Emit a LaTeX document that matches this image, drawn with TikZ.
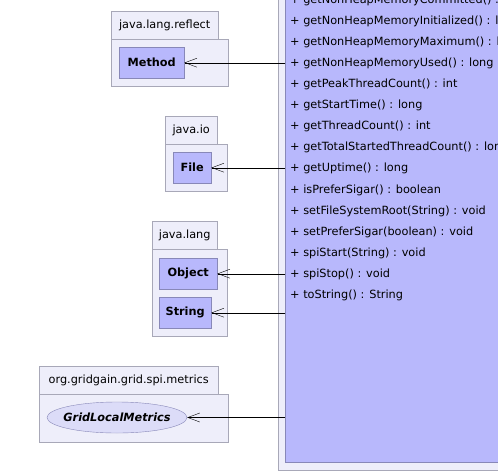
\documentclass[tikz,border=0pt]{standalone}
\usepackage{fontspec}
\setmainfont{DejaVu Sans}
\usetikzlibrary{arrows.meta,positioning,shapes.geometric}
\definecolor{pkgfill}{HTML}{EEEEFA}
\definecolor{pkgline}{HTML}{A8A8B8}
\definecolor{clsfill}{HTML}{B8B8FC}
\definecolor{clsline}{HTML}{8888B8}
\definecolor{ifcfill}{HTML}{DCDCF8}

\begin{document}
\begin{tikzpicture}[x=1pt, y=-1pt, font=\fontsize{11.3}{13}\selectfont,
          pkgtab/.style={draw=pkgline, fill=pkgfill, anchor=north west, inner sep=0pt, minimum height=28pt},
          pkgbody/.style={draw=pkgline, fill=pkgfill, anchor=north west, inner sep=0pt},
          cls/.style={draw=clsline, fill=clsfill, anchor=north west, inner sep=0pt, minimum height=31pt, font=\fontsize{11.3}{13}\selectfont\bfseries},
          ifc/.style={ellipse, draw=clsline, fill=ifcfill, inner ysep=0pt, inner xsep=-6pt, minimum width=140pt, minimum height=31pt, font=\fontsize{11.3}{13}\selectfont\bfseries\itshape},
          op/.style={anchor=west, inner sep=0pt},
          dep/.style={-{Straight Barb[length=12pt,width=9pt]}, black}]
        \useasboundingbox (0,0) rectangle (498,472);
        % the metrics class
        \node[pkgbody, draw=pkgline, minimum width=240pt, minimum height=490pt] (frame) at (278,-20) {};
        \node[pkgbody, draw=clsline, fill=clsfill, minimum width=240pt, minimum height=482pt] (inner) at (285,-20) {};
        \foreach \k/\txt in {0/getNonHeapMemoryCommitted() : long, 1/getNonHeapMemoryInitialized() : long,
            2/getNonHeapMemoryMaximum() : long, 3/getNonHeapMemoryUsed() : long,
            4/getPeakThreadCount() : int, 5/getStartTime() : long, 6/getThreadCount() : int,
            7/getTotalStartedThreadCount() : long, 8/getUptime() : long, 9/isPreferSigar() : boolean,
            10/setFileSystemRoot(String) : void, 11/setPreferSigar(boolean) : void,
            12/spiStart(String) : void, 13/spiStop() : void, 14/toString() : String}
            \node[op] (op\k) at (290,21.1*\k) {+ \txt};
        % packages
        \node[pkgbody, minimum width=117pt, minimum height=47pt] (reflectB) at (111,39) {};
        \node[pkgtab, minimum width=107pt] (reflectT) at (111,11) {java.lang.reflect};
        \node[cls, minimum width=65pt] (Method) at (119,47) {Method};
        \node[pkgbody, minimum width=62pt, minimum height=47pt] (ioB) at (165,144) {};
        \node[pkgtab, minimum width=52pt] (ioT) at (165,116) {java.io};
        \node[cls, minimum width=38pt] (File) at (173,152) {File};
        \node[pkgbody, minimum width=75pt, minimum height=87pt] (langB) at (152,249) {};
        \node[pkgtab, minimum width=65pt] (langT) at (152,221) {java.lang};
        \node[cls, minimum width=58pt] (Object) at (159,258) {Object};
        \node[cls, minimum width=52pt] (String) at (159,297) {String};
        \node[pkgbody, minimum width=189pt, minimum height=48pt] (metricsB) at (39,394) {};
        \node[pkgtab, minimum width=179pt] (metricsT) at (39,366) {org.gridgain.grid.spi.metrics};
        \node[ifc] (GridLocalMetrics) at (117,417.5) {GridLocalMetrics};
        % dependencies
        \foreach \n in {Method, File, Object, String, GridLocalMetrics}
            \draw[dep] (\n.east -| inner.west) -- (\n.east);
      \end{tikzpicture}
\end{document}
